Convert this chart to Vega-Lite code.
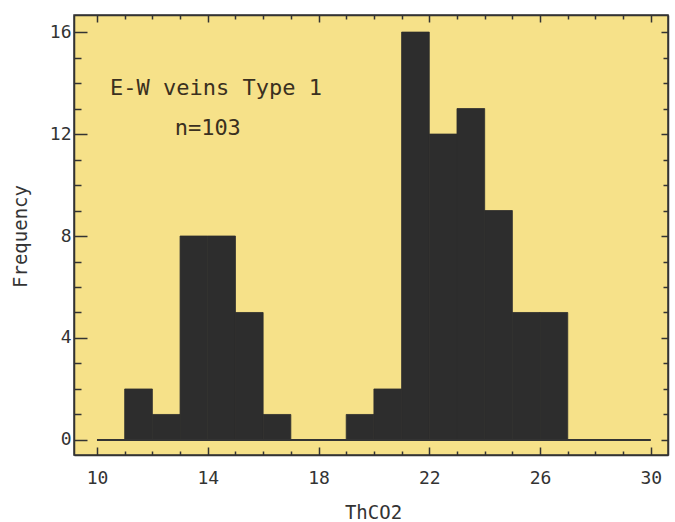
{
  "$schema": "https://vega.github.io/schema/vega-lite/v6.json",
  "width": 594,
  "height": 440,
  "autosize": {"type": "none"},
  "padding": {"left": 74, "top": 15, "right": 7, "bottom": 67},
  "background": "#ffffff",
  "config": {
    "view": {"fill": "#f6e189", "stroke": "#333333", "strokeWidth": 1.5},
    "axis": {
      "domainColor": "#333333", "domainWidth": 1.5, "tickColor": "#333333", "tickWidth": 1.5,
      "labelFont": "DejaVu Sans Mono", "labelFontSize": 18, "labelColor": "#333333",
      "titleFont": "DejaVu Sans Mono", "titleFontSize": 19, "titleColor": "#333333", "titleFontWeight": "normal",
      "grid": false
    }
  },
  "datasets": {
    "bins": [
      {"start": 11, "end": 12, "count": 2},
      {"start": 12, "end": 13, "count": 1},
      {"start": 13, "end": 14, "count": 8},
      {"start": 14, "end": 15, "count": 8},
      {"start": 15, "end": 16, "count": 5},
      {"start": 16, "end": 17, "count": 1},
      {"start": 19, "end": 20, "count": 1},
      {"start": 20, "end": 21, "count": 2},
      {"start": 21, "end": 22, "count": 16},
      {"start": 22, "end": 23, "count": 12},
      {"start": 23, "end": 24, "count": 13},
      {"start": 24, "end": 25, "count": 9},
      {"start": 25, "end": 26, "count": 5},
      {"start": 26, "end": 27, "count": 5}
    ],
    "base": [{"from": 10, "to": 30, "level": 0}],
    "notes": [
      {"tx": 14.3, "ty": 13.53, "label": "E-W veins Type 1"},
      {"tx": 14.0, "ty": 11.97, "label": "n=103"}
    ]
  },
  "resolve": {"axis": {"x": "independent", "y": "independent"}},
  "layer": [
    {
      "data": {"name": "bins"},
      "mark": {"type": "rect", "color": "#2d2d2d", "stroke": "#2d2d2d", "strokeWidth": 0.8},
      "encoding": {
        "x": {
          "field": "start", "type": "quantitative",
          "scale": {"domain": [9.17, 30.62], "nice": false, "zero": false},
          "axis": {
            "orient": "bottom", "title": "ThCO2",
            "values": [10,11,12,13,14,15,16,17,18,19,20,21,22,23,24,25,26,27,28,29,30],
            "labelExpr": "(datum.value - 10) % 4 == 0 ? datum.value : ''",
            "tickSize": {"condition": {"test": "(datum.value - 10) % 4 == 0", "value": -8}, "value": -4},
            "labelPadding": 22,
            "titleX": 299, "titleY": 57, "titleBaseline": "middle", "titleAlign": "center"
          }
        },
        "x2": {"field": "end"},
        "y": {
          "field": "count", "type": "quantitative",
          "scale": {"domain": [-0.59, 16.67], "nice": false, "zero": false},
          "axis": {
            "orient": "left", "title": "Frequency",
            "values": [0,1,2,3,4,5,6,7,8,9,10,11,12,13,14,15,16],
            "labelExpr": "datum.value % 4 == 0 ? datum.value : ''",
            "tickSize": {"condition": {"test": "datum.value % 4 == 0", "value": -13}, "value": -7},
            "labelPadding": 16,
            "titleX": -54, "titleY": 221, "titleAngle": -90, "titleBaseline": "middle", "titleAlign": "center"
          }
        },
        "y2": {"datum": 0}
      }
    },
    {
      "data": {"name": "base"},
      "mark": {"type": "rule", "color": "#333333", "strokeWidth": 2},
      "encoding": {
        "x": {
          "field": "from", "type": "quantitative",
          "axis": {
            "orient": "top", "title": null, "labels": false, "domain": true,
            "values": [10,11,12,13,14,15,16,17,18,19,20,21,22,23,24,25,26,27,28,29,30],
            "tickSize": {"condition": {"test": "(datum.value - 10) % 4 == 0", "value": -7}, "value": -4}
          }
        },
        "x2": {"field": "to"},
        "y": {
          "field": "level", "type": "quantitative",
          "axis": {
            "orient": "right", "title": null, "labels": false, "domain": true,
            "values": [0,1,2,3,4,5,6,7,8,9,10,11,12,13,14,15,16],
            "tickSize": {"condition": {"test": "datum.value % 4 == 0", "value": -7}, "value": -5}
          }
        }
      }
    },
    {
      "data": {"name": "notes"},
      "mark": {"type": "text", "font": "DejaVu Sans Mono", "fontSize": 22, "color": "#3a3020", "baseline": "alphabetic", "align": "center"},
      "encoding": {
        "x": {"field": "tx", "type": "quantitative", "axis": null},
        "y": {"field": "ty", "type": "quantitative", "axis": null},
        "text": {"field": "label"}
      }
    }
  ]
}
